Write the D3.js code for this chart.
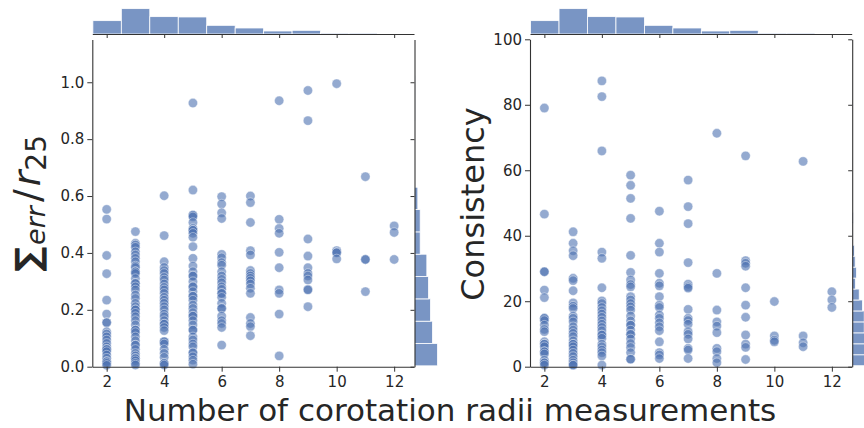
<!DOCTYPE html>
<html>
<head>
<meta charset="utf-8">
<script src="https://cdn.jsdelivr.net/npm/d3@7"></script>
<style>
  body { margin: 0; background: #fff; }
  svg { display: block; }
  text { font-family: "DejaVu Sans", sans-serif; fill: #262626; }
</style>
</head>
<body>
<svg id="chart" width="864" height="428"></svg>
<script>
// number of corotation radii measurements (x categories)
var nRadii = [2, 3, 4, 5, 6, 7, 8, 9, 10, 11, 12];

// Sigma_err / r25 values, one list per x category
var errCols = [
  [0.553, 0.519, 0.391, 0.327, 0.234, 0.185, 0.155, 0.155, 0.123, 0.115, 0.105, 0.094, 0.082, 0.07, 0.061, 0.061, 0.053, 0.041, 0.03, 0.018, 0.018, 0.012, 0.005],
  [0.475, 0.434, 0.428, 0.42, 0.404, 0.393, 0.381, 0.369, 0.354, 0.349, 0.334, 0.334, 0.328, 0.31, 0.293, 0.293, 0.281, 0.27, 0.252, 0.24, 0.223, 0.211, 0.2, 0.2, 0.188, 0.176, 0.162, 0.147, 0.129, 0.129, 0.12, 0.105, 0.091, 0.076, 0.076, 0.061, 0.047, 0.038, 0.029, 0.029, 0.021, 0.012, 0.006],
  [0.601, 0.461, 0.369, 0.349, 0.338, 0.328, 0.314, 0.305, 0.291, 0.279, 0.27, 0.258, 0.244, 0.234, 0.223, 0.211, 0.2, 0.185, 0.176, 0.162, 0.15, 0.15, 0.138, 0.127, 0.088, 0.088, 0.08, 0.061, 0.047, 0.033, 0.012, 0.012, 0.006],
  [0.927, 0.621, 0.533, 0.533, 0.527, 0.507, 0.486, 0.48, 0.48, 0.469, 0.455, 0.422, 0.381, 0.354, 0.334, 0.319, 0.319, 0.299, 0.281, 0.281, 0.264, 0.248, 0.248, 0.234, 0.217, 0.205, 0.19, 0.178, 0.178, 0.162, 0.147, 0.129, 0.129, 0.105, 0.094, 0.08, 0.07, 0.049, 0.049, 0.035, 0.023, 0.009],
  [0.598, 0.572, 0.541, 0.521, 0.395, 0.383, 0.366, 0.357, 0.334, 0.319, 0.307, 0.295, 0.281, 0.272, 0.258, 0.258, 0.244, 0.223, 0.205, 0.205, 0.178, 0.162, 0.152, 0.138, 0.076],
  [0.6, 0.577, 0.507, 0.408, 0.393, 0.338, 0.328, 0.319, 0.311, 0.302, 0.291, 0.276, 0.258, 0.173, 0.152, 0.141, 0.109],
  [0.935, 0.518, 0.486, 0.469, 0.402, 0.348, 0.27, 0.258, 0.185, 0.038],
  [0.971, 0.865, 0.449, 0.389, 0.348, 0.328, 0.319, 0.305, 0.272, 0.27, 0.211],
  [0.995, 0.408, 0.401, 0.401, 0.379],
  [0.668, 0.377, 0.377, 0.264],
  [0.495, 0.472, 0.377]
];

// Consistency values, one list per x category
var consCols = [
  [79.0, 46.6, 29.0, 29.0, 23.4, 21.1, 14.8, 14.8, 14.1, 12.7, 11.4, 10.7, 7.6, 6.9, 6.9, 6.1, 4.6, 4.6, 3.9, 2.0, 1.2, 1.2, 0.5],
  [41.2, 37.7, 35.4, 33.9, 27.0, 26.3, 23.2, 19.5, 18.5, 17.8, 15.5, 14.8, 13.7, 12.2, 11.2, 10.2, 9.2, 7.9, 6.9, 6.9, 6.1, 5.1, 4.1, 3.1, 2.0, 1.2, 0.5, 0.5],
  [87.3, 82.5, 65.9, 35.0, 33.1, 24.1, 20.1, 19.3, 18.1, 17.1, 16.1, 15.1, 14.0, 13.0, 12.0, 11.0, 9.7, 9.7, 8.7, 6.9, 6.1, 5.1, 4.3, 3.3, 0.5],
  [58.5, 55.4, 51.4, 45.3, 34.0, 28.8, 26.5, 25.1, 24.4, 21.4, 20.4, 19.3, 18.3, 17.3, 15.5, 14.0, 12.7, 12.7, 11.2, 9.9, 9.9, 8.5, 7.1, 5.9, 4.3, 2.3, 2.3],
  [47.5, 37.7, 35.0, 28.5, 25.5, 24.7, 21.4, 18.8, 18.1, 15.8, 14.8, 13.4, 12.2, 11.0, 7.6, 4.3, 3.6, 2.5],
  [57.0, 48.9, 43.7, 31.8, 25.2, 24.4, 24.0, 17.5, 14.8, 14.1, 13.0, 10.7, 9.9, 8.5, 5.6, 5.1, 2.5],
  [71.3, 28.5, 17.3, 13.7, 12.4, 10.4, 5.6, 4.6, 2.5, 1.2],
  [64.4, 32.4, 31.6, 30.7, 24.1, 18.8, 15.1, 9.7, 6.9, 5.9, 2.2],
  [19.9, 9.4, 8.1, 7.6],
  [62.7, 9.4, 7.3, 6.1],
  [22.9, 20.4, 18.1]
];

// marginal histogram counts
var nRadiiCounts = [40, 76, 52, 51, 26, 18, 9, 11, 3, 3, 2];
var nRadiiBin = {start: 1.52, width: 0.99};
var errCounts = [69, 54, 48, 42, 37, 17, 17, 10, 1, 0, 1, 2, 2];
var errBin = {start: 0.003, width: 0.0785};
var consCounts = [38, 38, 37, 36, 36, 31, 21, 10, 13, 9, 7, 2, 1, 3, 2, 1, 1, 2, 1, 2, 0, 1, 0, 1, 1, 1];
var consBin = {start: 0.3, width: 3.346};

var errTicks = [0.0, 0.2, 0.4, 0.6, 0.8, 1.0];
var consTicks = [0, 20, 40, 60, 80, 100];
var xTicks = [2, 4, 6, 8, 10, 12];

var blue = "#4c72b0";
var axisColor = "#333";

var svg = d3.select("#chart");

// count scale shared by all marginal histograms
var countScale = d3.scaleLinear().domain([0, 80]).range([0, 26.7]);

function jointPlot(opts) {
    var x = d3.scaleLinear().domain([1.5, 12.69]).range([opts.left, opts.right]);
    var y = d3.scaleLinear().domain(opts.yDomain).range([366.7, opts.top]);
    var g = svg.append("g");

    // points
    var pts = [];
    opts.cols.forEach(function(col, i){
        col.forEach(function(v){ pts.push({x: nRadii[i], y: v}); });
    });
    g.append("g").selectAll("circle").data(pts).enter().append("circle")
        .attr("cx", d => x(d.x))
        .attr("cy", d => y(d.y))
        .attr("r", 4.7)
        .attr("fill", blue)
        .attr("fill-opacity", 0.6)
        .attr("stroke", "#fff")
        .attr("stroke-opacity", 0.6)
        .attr("stroke-width", 0.7);

    // axes of the joint panel
    var xAxis = g.append("g")
        .attr("transform", `translate(0,366.7)`)
        .call(d3.axisBottom(x).tickValues(xTicks).tickSize(5).tickPadding(5).tickSizeOuter(0));
    var yAxis = g.append("g")
        .attr("transform", `translate(${opts.left},0)`)
        .call(d3.axisLeft(y).tickValues(opts.yTicks).tickFormat(opts.fmt).tickSize(5).tickPadding(3).tickSizeOuter(0));
    [xAxis, yAxis].forEach(function(a){
        a.selectAll("text").style("font-size", "15px").attr("fill", "#262626");
        a.selectAll("line").attr("stroke", axisColor);
        a.select(".domain").attr("stroke", axisColor).attr("stroke-width", 1.1);
    });

    // top marginal histogram
    var topBase = 34;
    g.append("g").selectAll("rect").data(nRadiiCounts).enter().append("rect")
        .attr("x", (d, i) => x(nRadiiBin.start + i * nRadiiBin.width))
        .attr("width", x(nRadiiBin.start + nRadiiBin.width) - x(nRadiiBin.start))
        .attr("y", d => topBase - countScale(d))
        .attr("height", d => countScale(d))
        .attr("fill", blue).attr("fill-opacity", 0.75)
        .attr("stroke", "#fff").attr("stroke-width", 0.8);
    var topAxis = g.append("g")
        .attr("transform", `translate(0,${topBase})`)
        .call(d3.axisBottom(x).tickValues(xTicks).tickFormat("").tickSize(4).tickSizeOuter(0));

    // right marginal histogram
    var rightBase = opts.right + 0.5;
    g.append("g").selectAll("rect").data(opts.hist).enter().append("rect")
        .attr("x", rightBase)
        .attr("y", (d, i) => y(opts.bin.start + (i + 1) * opts.bin.width))
        .attr("height", y(opts.bin.start) - y(opts.bin.start + opts.bin.width))
        .attr("width", d => countScale(d))
        .attr("fill", blue).attr("fill-opacity", 0.75)
        .attr("stroke", "#fff").attr("stroke-width", 0.8);
    var rightAxis = g.append("g")
        .attr("transform", `translate(${rightBase},0)`)
        .call(d3.axisLeft(y).tickValues(opts.yTicks).tickFormat("").tickSize(4).tickSizeOuter(0));
    [topAxis, rightAxis].forEach(function(a){
        a.selectAll("line").attr("stroke", axisColor);
        a.select(".domain").attr("stroke", axisColor).attr("stroke-width", 1.1);
    });
}

jointPlot({left: 92.3, right: 414, top: 39.6, yDomain: [0, 1.15], cols: errCols,
           yTicks: errTicks, fmt: d3.format(".1f"), hist: errCounts, bin: errBin});
jointPlot({left: 530, right: 851.7, top: 39.3, yDomain: [0, 100], cols: consCols,
           yTicks: consTicks, fmt: d3.format("d"), hist: consCounts, bin: consBin});

// y label left (math style), written bottom to top
var lab = svg.append("text")
    .attr("transform", "translate(40,0) rotate(-90)")
    .attr("x", -272)
    .attr("text-anchor", "start")
    .style("font-size", "36px");
lab.append("tspan").style("font-size", "35px").style("font-weight", "bold").text("\u2211");
lab.append("tspan").attr("dy", 5).attr("dx", 2).style("font-size", "27px").style("font-style", "italic").text("err");
lab.append("tspan").attr("dy", -5).attr("dx", 4).style("font-size", "38px").text("/");
lab.append("tspan").attr("dx", 3).style("font-size", "38px").style("font-style", "italic").text("r");
lab.append("tspan").attr("dy", 6).style("font-size", "28px").text("25");

svg.append("text")
    .attr("transform", "translate(484,204) rotate(-90)")
    .attr("text-anchor", "middle")
    .style("font-size", "32px")
    .text("Consistency");

svg.append("text")
    .attr("x", 450).attr("y", 421)
    .attr("text-anchor", "middle")
    .style("font-size", "31px")
    .text("Number of corotation radii measurements");
</script>
</body>
</html>
